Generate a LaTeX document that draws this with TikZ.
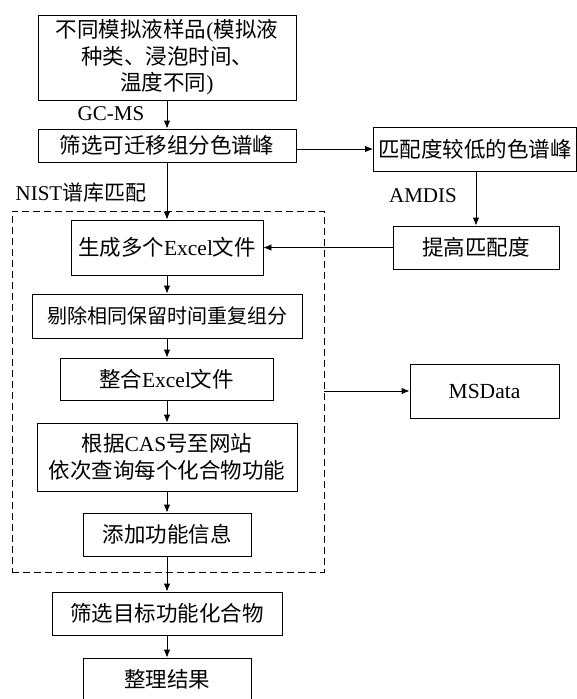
\documentclass[tikz,border=0pt]{standalone}
\usepackage{fontspec}
\setmainfont{Liberation Serif}
\newfontfamily\cjk{Noto Sans CJK SC}
\usepackage{tikz}
\usetikzlibrary{positioning, arrows.meta}
\newcommand{\zh}[1]{{\cjk #1}}

\begin{document}
\begin{tikzpicture}[
    x=1pt, y=-1pt,
    font=\fontsize{21.5}{26.5}\selectfont,
    stepbox/.style={rectangle, draw, line width=0.9pt, inner sep=0pt, align=center},
    tagtext/.style={inner sep=0pt, font=\fontsize{21}{26}\selectfont},
    arr/.style={-{Latex[length=8pt, width=6.5pt]}, line width=0.9pt}
]
\useasboundingbox (0,0) rectangle (577,699);

% main column
\node[stepbox, minimum width=258, minimum height=85] (sample) at (167,57.5)
    {\zh{不同模拟液样品}(\zh{模拟液}\\\zh{种类、浸泡时间、}\\\zh{温度不同})};
\node[stepbox, minimum width=258, minimum height=33] (screen) at (167,145.5) {\zh{筛选可迁移组分色谱峰}};
\node[stepbox, minimum width=192, minimum height=55] (excel) at (167,247.5) {\zh{生成多个}Excel\zh{文件}};
\node[stepbox, minimum width=270, minimum height=44, font=\fontsize{20}{26}\selectfont] (dedup) at (167,316)
    {\zh{剔除相同保留时间重复组分}};
\node[stepbox, minimum width=213, minimum height=42] (merge) at (166.5,379) {\zh{整合}Excel\zh{文件}};
\node[stepbox, minimum width=260, minimum height=68] (query) at (167,457)
    {\zh{根据}CAS\zh{号至网站}\\\zh{依次查询每个化合物功能}};
\node[stepbox, minimum width=168, minimum height=43] (addinfo) at (167,534.5) {\zh{添加功能信息}};
\node[stepbox, minimum width=230, minimum height=43] (target) at (167,613.5) {\zh{筛选目标功能化合物}};
\node[stepbox, minimum width=168, minimum height=43] (result) at (167,679.5) {\zh{整理结果}};

% right side
\node[stepbox, minimum width=203, minimum height=44] (lowmatch) at (475,149) {\zh{匹配度较低的色谱峰}};
\node[stepbox, minimum width=166, minimum height=43] (improve) at (476,247.5) {\zh{提高匹配度}};
\node[stepbox, minimum width=149, minimum height=54] (msdata) at (484.5,391) {MSData};

% dashed group
\node[draw, dashed, dash pattern=on 7pt off 4pt, line width=0.8pt, inner sep=0pt,
      minimum width=312, minimum height=361] (grp) at (168,391.5) {};

% labels
\node[tagtext] (gcms) at (111,114) {GC-MS};
\node[tagtext] (nist) at (81,193) {NIST\zh{谱库匹配}};
\node[tagtext] (amdis) at (423,196) {AMDIS};

\draw[arr] (sample) -- (screen);
\draw[arr] (screen) -- (excel);
\draw[arr] (excel) -- (dedup);
\draw[arr] (dedup) -- (merge.north -| dedup);
\draw[arr] (merge.south -| query) -- (query);
\draw[arr] (query) -- (addinfo);
\draw[arr] (addinfo) -- (target);
\draw[arr] (target) -- (result);
\draw[arr] (screen.east |- lowmatch.west) -- (lowmatch.west);
\draw[arr] (lowmatch.south -| improve.north) -- (improve.north);
\draw[arr] (improve.west) -- (excel.east |- improve.west);
\draw[arr] (grp.east |- msdata.west) -- (msdata.west);
\end{tikzpicture}
\end{document}
